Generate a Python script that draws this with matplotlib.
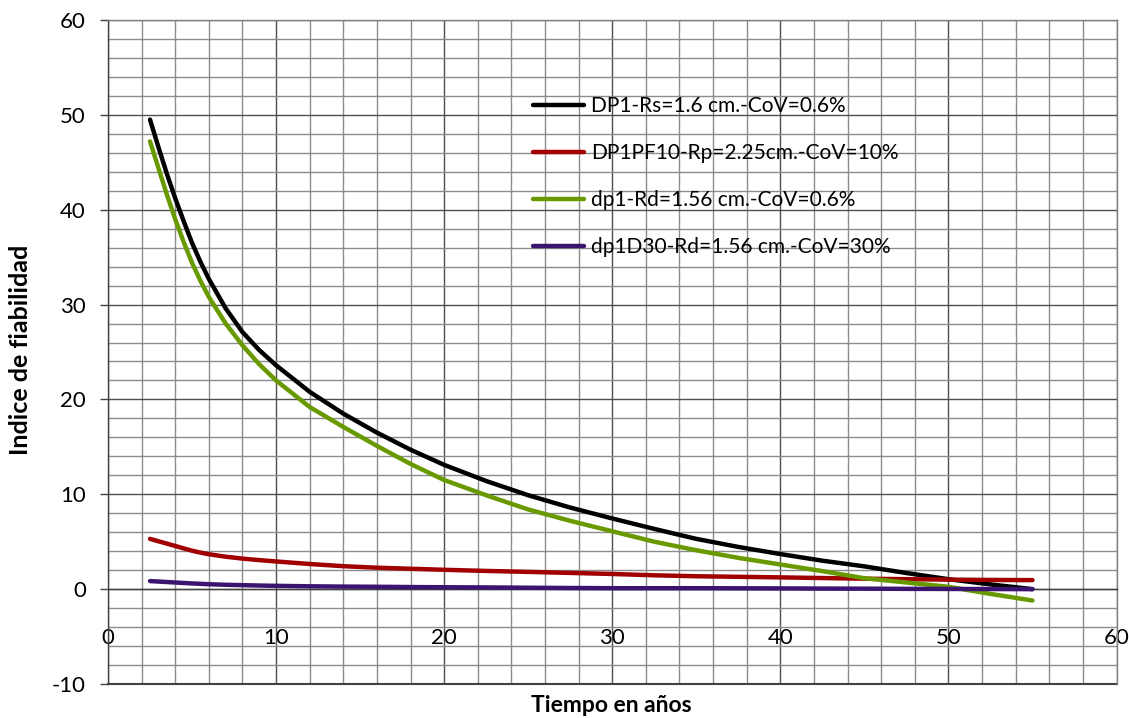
import matplotlib
matplotlib.use("Agg")
import matplotlib.pyplot as plt
from matplotlib.ticker import MultipleLocator

plt.rcParams['font.family'] = ['Lato', 'DejaVu Sans']

# Time (years) at which reliability index was evaluated
years = [2.5, 3, 3.5, 4, 4.5, 5, 5.5, 6, 7, 8, 9, 10, 12, 14, 16, 18, 20,
         22.5, 25, 27.5, 30, 32.5, 35, 37.5, 40, 42.5, 45, 47.5, 50, 52.5, 55]

dp1_rs = [49.5, 46.6, 43.8, 41.2, 38.8, 36.5, 34.5, 32.7, 29.6, 27.1, 25.2,
          23.6, 20.8, 18.5, 16.5, 14.7, 13.1, 11.4, 9.9, 8.6, 7.45, 6.35,
          5.3, 4.45, 3.7, 3.0, 2.4, 1.7, 1.05, 0.5, 0.0]
dp1pf10_rp = [5.3, 5.05, 4.8, 4.55, 4.3, 4.05, 3.85, 3.68, 3.42, 3.22, 3.06,
              2.92, 2.65, 2.42, 2.26, 2.15, 2.04, 1.92, 1.82, 1.71, 1.6, 1.46,
              1.36, 1.3, 1.24, 1.17, 1.1, 1.05, 1.0, 0.97, 0.95]
dp1_rd = [47.2, 44.4, 41.6, 39.0, 36.6, 34.4, 32.5, 30.8, 28.0, 25.7, 23.7,
          22.0, 19.2, 17.1, 15.1, 13.2, 11.5, 9.9, 8.4, 7.2, 6.1, 5.0, 4.1,
          3.3, 2.6, 1.9, 1.15, 0.7, 0.25, -0.5, -1.2]
dp1d30_rd = [0.85, 0.8, 0.75, 0.7, 0.65, 0.6, 0.56, 0.52, 0.46, 0.42, 0.38,
             0.35, 0.3, 0.27, 0.25, 0.22, 0.2, 0.18, 0.15, 0.12, 0.1, 0.1,
             0.1, 0.09, 0.08, 0.06, 0.05, 0.03, 0.02, 0.01, 0.0]

series = [
    ("DP1-Rs=1.6 cm.-CoV=0.6%", dp1_rs, "#000000"),
    ("DP1PF10-Rp=2.25cm.-CoV=10%", dp1pf10_rp, "#A00000"),
    ("dp1-Rd=1.56 cm.-CoV=0.6%", dp1_rd, "#689A00"),
    ("dp1D30-Rd=1.56 cm.-CoV=30%", dp1d30_rd, "#3C1470"),
]

x_ticks = [0, 10, 20, 30, 40, 50, 60]
y_ticks = [-10, 0, 10, 20, 30, 40, 50, 60]

fig = plt.figure(figsize=(11.29, 7.18), dpi=100)
ax = fig.add_axes([108 / 1129, 1 - 684 / 718, (1116.5 - 108) / 1129, (684 - 20) / 718])

for label, values, color in series:
    ax.plot(years, values, color=color, lw=3.2, label=label,
            solid_capstyle='round', solid_joinstyle='round', zorder=3)

ax.set_xlim(0, 60)
ax.set_ylim(-10, 60)
ax.set_xticks(x_ticks)
ax.set_xticklabels([str(v) for v in x_ticks])
ax.set_yticks(y_ticks)
ax.set_yticklabels([str(v) for v in y_ticks])
ax.xaxis.set_minor_locator(MultipleLocator(2))
ax.yaxis.set_minor_locator(MultipleLocator(2))

# Gridlines: minor every 2 units, major every 10
ax.grid(which='minor', color='#8c8c8c', lw=1.0, zorder=0)
ax.grid(which='major', color='#505050', lw=1.0, zorder=1)
ax.set_axisbelow(True)

# Horizontal axis crosses at y = 0
ax.spines['bottom'].set_position(('data', 0))
ax.spines['bottom'].set_color('#404040')
ax.spines['bottom'].set_linewidth(1.0)
ax.spines['left'].set_color('#404040')
ax.spines['left'].set_linewidth(1.0)
for side in ('top', 'right'):
    ax.spines[side].set_color('#808080')
    ax.spines[side].set_linewidth(1.0)
ax.axhline(-10, color='#404040', lw=1.5, zorder=1, clip_on=False)

ax.tick_params(axis='x', which='major', length=0, pad=28, labelsize=16)
ax.tick_params(axis='x', which='minor', length=0)
ax.tick_params(axis='y', which='major', length=6, width=1.0, color='#404040',
               pad=10, labelsize=16)
ax.tick_params(axis='y', which='minor', length=0)

fig.text(21 / 1129, 1 - 350 / 718, "Indice de fiabilidad", rotation=90,
         ha='center', va='center', fontsize=18, fontweight='bold')
fig.text(611 / 1129, 1 - 705 / 718, "Tiempo en años",
         ha='center', va='center', fontsize=16.5, fontweight='bold')

ax.legend(loc='upper left', bbox_to_anchor=((533 - 108) / 1008.5, 1 - (96 - 20) / 664),
          frameon=False, fontsize=15, handlelength=2.45, handletextpad=0.33,
          labelspacing=1.3, borderpad=0, borderaxespad=0)

fig.savefig("out.png", dpi=100)
